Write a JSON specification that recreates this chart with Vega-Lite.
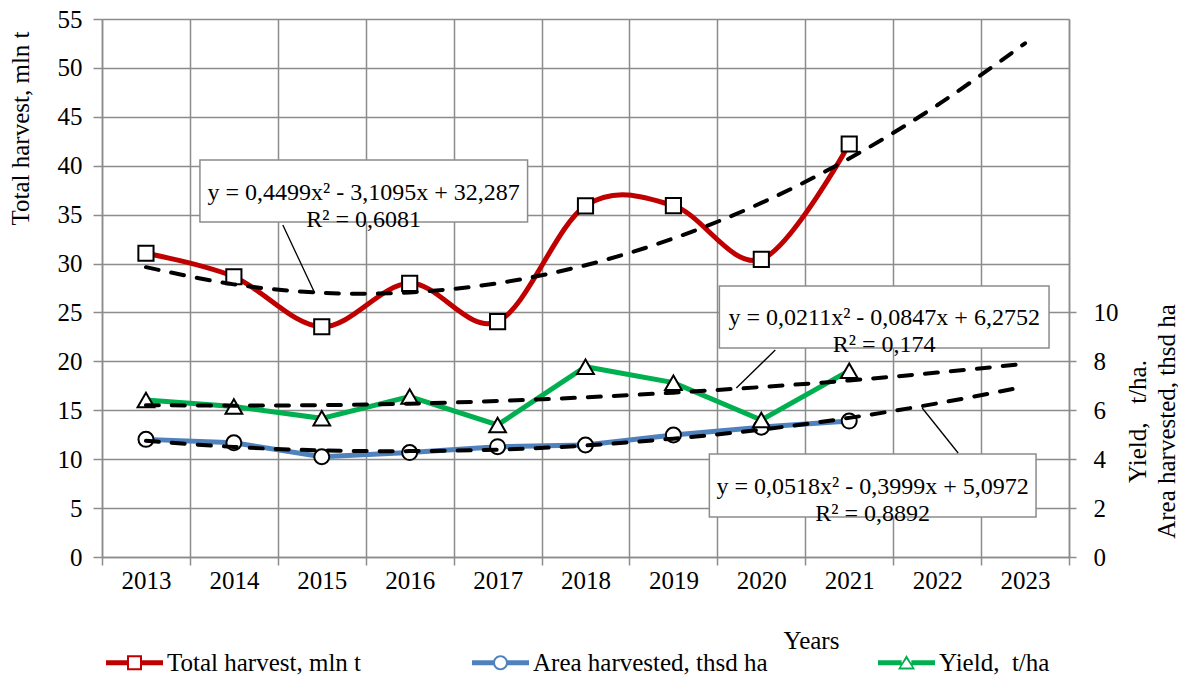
{
  "$schema": "https://vega.github.io/schema/vega-lite/v6.json",
  "width": 967,
  "height": 538,
  "autosize": {"type": "none"},
  "padding": {"left": 102, "top": 19, "right": 109, "bottom": 120},
  "background": "white",
  "config": {
    "font": "'Liberation Serif', serif",
    "view": {"stroke": null},
    "axis": {
      "labelFont": "'Liberation Serif', serif", "titleFont": "'Liberation Serif', serif",
      "labelFontSize": 25, "titleFontSize": 25, "labelColor": "black", "titleColor": "black",
      "titleFontWeight": "normal", "domainColor": "#8c8c8c", "tickColor": "#8c8c8c", "gridColor": "#8c8c8c",
      "domainWidth": 1.5, "tickWidth": 1.5, "gridWidth": 1.5, "labelOverlap": false, "labelFlush": false
    }
  },
  "datasets": {
    "series": [
      {"series": "total", "x": 1, "v": 31.05}, {"series": "total", "x": 2, "v": 28.65}, {"series": "total", "x": 3, "v": 23.54},
      {"series": "total", "x": 4, "v": 27.98}, {"series": "total", "x": 5, "v": 24.06}, {"series": "total", "x": 6, "v": 35.9},
      {"series": "total", "x": 7, "v": 35.92}, {"series": "total", "x": 8, "v": 30.43}, {"series": "total", "x": 9, "v": 42.22},
      {"series": "area", "x": 1, "v": 4.81}, {"series": "area", "x": 2, "v": 4.67}, {"series": "area", "x": 3, "v": 4.10},
      {"series": "area", "x": 4, "v": 4.27}, {"series": "area", "x": 5, "v": 4.51}, {"series": "area", "x": 6, "v": 4.58},
      {"series": "area", "x": 7, "v": 4.99}, {"series": "area", "x": 8, "v": 5.31}, {"series": "area", "x": 9, "v": 5.56},
      {"series": "yield", "x": 1, "v": 6.42}, {"series": "yield", "x": 2, "v": 6.15}, {"series": "yield", "x": 3, "v": 5.67},
      {"series": "yield", "x": 4, "v": 6.56}, {"series": "yield", "x": 5, "v": 5.40}, {"series": "yield", "x": 6, "v": 7.78},
      {"series": "yield", "x": 7, "v": 7.13}, {"series": "yield", "x": 8, "v": 5.60}, {"series": "yield", "x": 9, "v": 7.62}
    ],
    "trends": [
      {"trend": "total", "x": 1, "v": 29.63}, {"trend": "total", "x": 2, "v": 27.87}, {"trend": "total", "x": 3, "v": 27.01},
      {"trend": "total", "x": 4, "v": 27.05}, {"trend": "total", "x": 5, "v": 27.99}, {"trend": "total", "x": 6, "v": 29.83},
      {"trend": "total", "x": 7, "v": 32.57}, {"trend": "total", "x": 8, "v": 36.20}, {"trend": "total", "x": 9, "v": 40.74},
      {"trend": "total", "x": 10, "v": 46.18}, {"trend": "total", "x": 11, "v": 52.52},
      {"trend": "yield", "x": 1, "v": 6.21}, {"trend": "yield", "x": 2, "v": 6.19}, {"trend": "yield", "x": 3, "v": 6.21},
      {"trend": "yield", "x": 4, "v": 6.27}, {"trend": "yield", "x": 5, "v": 6.38}, {"trend": "yield", "x": 6, "v": 6.53},
      {"trend": "yield", "x": 7, "v": 6.72}, {"trend": "yield", "x": 8, "v": 6.95}, {"trend": "yield", "x": 9, "v": 7.22},
      {"trend": "yield", "x": 10, "v": 7.54}, {"trend": "yield", "x": 11, "v": 7.90},
      {"trend": "area", "x": 1, "v": 4.75}, {"trend": "area", "x": 2, "v": 4.50}, {"trend": "area", "x": 3, "v": 4.36},
      {"trend": "area", "x": 4, "v": 4.33}, {"trend": "area", "x": 5, "v": 4.39}, {"trend": "area", "x": 6, "v": 4.56},
      {"trend": "area", "x": 7, "v": 4.84}, {"trend": "area", "x": 8, "v": 5.21}, {"trend": "area", "x": 9, "v": 5.69},
      {"trend": "area", "x": 10, "v": 6.28}, {"trend": "area", "x": 11, "v": 6.97}
    ],
    "boxes": [
      {"x": 1.614, "x2": 5.341, "v": 40.58, "v2": 34.25},
      {"x": 7.523, "x2": 11.273, "v": 27.70, "v2": 21.37},
      {"x": 7.409, "x2": 11.125, "v": 10.53, "v2": 4.09}
    ],
    "leaders": [
      {"x": 2.557, "v": 33.94, "x2": 2.920, "v2": 26.99},
      {"x": 8.159, "v": 21.16, "x2": 7.716, "v2": 17.28},
      {"x": 9.830, "v": 15.23, "x2": 10.239, "v2": 10.63}
    ],
    "notes": [
      {"x": 3.477, "v": 37.17, "label": "y = 0,4499x² - 3,1095x + 32,287\nR² = 0,6081"},
      {"x": 9.398, "v": 24.48, "label": "y = 0,0211x² - 0,0847x + 6,2752\nR² = 0,174"},
      {"x": 9.267, "v": 7.16, "label": "y = 0,0518x² - 0,3999x + 5,0972\nR² = 0,8892"}
    ]
  },
  "encoding": {
    "x": {
      "field": "x", "type": "quantitative",
      "scale": {"domain": [0.5, 11.5], "nice": false, "zero": false},
      "axis": {
        "values": [0.5, 1.5, 2.5, 3.5, 4.5, 5.5, 6.5, 7.5, 8.5, 9.5, 10.5, 11.5],
        "labelExpr": "datum.value < 11 ? format(datum.value + 2012.5, 'd') : ''",
        "labelFont": "'Liberation Serif', serif",
        "labelOffset": 44, "tickSize": 8, "labelPadding": 3, "grid": true,
        "title": "Years", "titleX": 709, "titleY": 91, "titleBaseline": "alphabetic", "titleAlign": "center"
      }
    }
  },
  "layer": [
    {
      "encoding": {
        "y": {
          "field": "v", "type": "quantitative",
          "scale": {"domain": [0, 55], "nice": false, "zero": true},
          "axis": {
            "orient": "left", "values": [0, 5, 10, 15, 20, 25, 30, 35, 40, 45, 50, 55],
            "labelFont": "'Liberation Serif', serif",
            "tickSize": 9, "labelPadding": 11, "grid": true,
            "title": "Total harvest, mln t", "titleAngle": 270, "titleX": -82, "titleY": 109,
            "titleAlign": "center", "titleBaseline": "middle"
          }
        }
      },
      "layer": [
        {
          "data": {"name": "series"},
          "transform": [{"filter": "datum.series === 'total'"}],
          "mark": {"type": "line", "interpolate": "cardinal", "strokeWidth": 5, "strokeCap": "round"},
          "encoding": {
            "color": {
              "field": "series", "type": "nominal",
              "scale": {"domain": ["total", "area", "yield"], "range": ["#C00000", "#4F81BD", "#00B050"]},
              "legend": {
                "title": null, "orient": "none", "legendX": 4, "legendY": 615, "direction": "horizontal",
                "columns": 3, "columnPadding": 110, "padding": 0,
                "labelFont": "'Liberation Serif', serif",
                "labelFontSize": 25, "labelColor": "black", "labelOffset": 4, "labelLimit": 400,
                "symbolSize": 3249, "symbolStrokeWidth": 0,
                "labelExpr": "datum.value === 'total' ? 'Total harvest, mln t' : datum.value === 'area' ? 'Area harvested, thsd ha' : 'Yield,\u00a0 t/ha'",
                "encode": {
                  "symbols": {
                    "update": {
                      "shape": {"signal": "datum.value === 'total' ? 'M-1,-0.088H-0.263V0.088H-1Z M0.263,-0.088H1V0.088H0.263Z M-0.263,-0.263H0.263V0.263H-0.263Z M-0.193,-0.193V0.193H0.193V-0.193Z' : datum.value === 'area' ? 'M-1,-0.088H-0.25V0.088H-1Z M0.25,-0.088H1V0.088H0.25Z M-0.263,0A0.263,0.263,0,1,1,0.263,0A0.263,0.263,0,1,1,-0.263,0Z M-0.193,0A0.193,0.193,0,1,0,0.193,0A0.193,0.193,0,1,0,-0.193,0Z' : 'M-1,-0.088H-0.17V0.088H-1Z M0.17,-0.088H1V0.088H0.17Z M0,-0.27L0.3,0.24H-0.3Z M0,-0.135L-0.2,0.17H0.2Z'"},
                      "fill": {"signal": "datum.value === 'total' ? '#C00000' : datum.value === 'area' ? '#4F81BD' : '#00B050'"},
                      "fillOpacity": {"value": 1},
                      "stroke": {"value": "transparent"},
                      "strokeWidth": {"value": 0},
                      "size": {"value": 3249},
                      "opacity": {"value": 1}
                    }
                  }
                }
              }
            }
          }
        },
        {
          "data": {"name": "series"},
          "transform": [{"filter": "datum.series === 'total'"}],
          "mark": {"type": "point", "shape": "square", "size": 230, "filled": true, "fill": "white", "stroke": "black", "strokeWidth": 2, "opacity": 1}
        },
        {
          "data": {"name": "trends"},
          "transform": [{"filter": "datum.trend === 'total'"}],
          "mark": {"type": "line", "interpolate": "cardinal", "color": "black", "strokeWidth": 4, "strokeDash": [13, 13], "strokeCap": "round"}
        },
        {
          "data": {"name": "boxes"},
          "mark": {"type": "rect", "fill": "white", "stroke": "#8c8c8c", "strokeWidth": 1.5},
          "encoding": {"x2": {"field": "x2"}, "y2": {"field": "v2"}}
        },
        {
          "data": {"name": "leaders"},
          "mark": {"type": "rule", "color": "black", "strokeWidth": 1.3},
          "encoding": {"x2": {"field": "x2"}, "y2": {"field": "v2"}}
        },
        {
          "data": {"name": "notes"},
          "mark": {"type": "text", "font": "'Liberation Serif', serif", "fontSize": 24, "color": "black", "align": "center", "baseline": "middle", "lineBreak": "\n", "lineHeight": 27},
          "encoding": {"text": {"field": "label"}}
        }
      ]
    },
    {
      "encoding": {
        "y": {
          "field": "v", "type": "quantitative",
          "scale": {"domain": [0, 22], "nice": false, "zero": true},
          "axis": {
            "orient": "right", "values": [0, 2, 4, 6, 8, 10], "tickSize": 7, "labelPadding": 17, "grid": false,
            "labelFont": "'Liberation Serif', serif",
            "title": ["Yield,\u00a0\u00a0 t/ha.", "Area harvested, thsd ha"], "titleAngle": 270, "titleX": 68, "titleY": 402,
            "titleAlign": "center", "titleBaseline": "middle", "titleLineHeight": 29
          }
        }
      },
      "layer": [
        {
          "data": {"name": "series"},
          "transform": [{"filter": "datum.series !== 'total'"}],
          "mark": {"type": "line", "strokeWidth": 5, "strokeCap": "round"},
          "encoding": {
            "color": {"field": "series", "type": "nominal", "scale": {"domain": ["total", "area", "yield"], "range": ["#C00000", "#4F81BD", "#00B050"]}, "legend": null}
          }
        },
        {
          "data": {"name": "series"},
          "transform": [{"filter": "datum.series === 'area'"}],
          "mark": {"type": "point", "shape": "circle", "size": 225, "filled": true, "fill": "white", "stroke": "black", "strokeWidth": 2, "opacity": 1}
        },
        {
          "data": {"name": "series"},
          "transform": [{"filter": "datum.series === 'yield'"}],
          "mark": {"type": "point", "shape": "triangle-up", "size": 280, "filled": true, "fill": "white", "stroke": "black", "strokeWidth": 2, "opacity": 1}
        },
        {
          "data": {"name": "trends"},
          "transform": [{"filter": "datum.trend !== 'total'"}],
          "mark": {"type": "line", "interpolate": "cardinal", "color": "black", "strokeWidth": 4, "strokeDash": [13, 13], "strokeCap": "round"},
          "encoding": {"detail": {"field": "trend"}}
        }
      ]
    }
  ],
  "resolve": {"scale": {"y": "independent"}}
}
